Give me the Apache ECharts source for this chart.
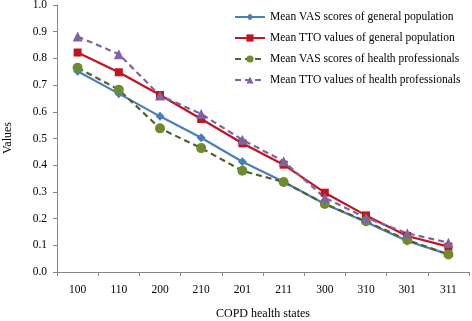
<!DOCTYPE html>
<html>
<head>
<meta charset="utf-8">
<script src="https://cdn.jsdelivr.net/npm/echarts@6/dist/echarts.min.js"></script>
<style>
  html, body { margin: 0; padding: 0; background: #fff; }
  #chart { width: 472px; height: 321px; }
</style>
</head>
<body>
<div id="chart"></div>
<script>
var healthStates = ['100', '110', '200', '210', '201', '211', '300', '310', '301', '311'];
var vasGeneral = [0.752, 0.668, 0.583, 0.503, 0.413, 0.338, 0.255, 0.187, 0.116, 0.066];
var ttoGeneral = [0.822, 0.748, 0.663, 0.573, 0.482, 0.402, 0.297, 0.212, 0.135, 0.095];
var vasProfessionals = [0.765, 0.683, 0.538, 0.464, 0.379, 0.337, 0.255, 0.19, 0.12, 0.066];
var ttoProfessionals = [0.882, 0.816, 0.661, 0.592, 0.495, 0.415, 0.278, 0.203, 0.145, 0.11];

function makeSeries(name, data, color, markColor, symbol, size, dashed) {
    return {
        name: name,
        type: 'line',
        data: data,
        symbol: symbol,
        symbolSize: size,
        lineStyle: { color: color, width: 2.2, type: dashed ? [6, 4] : 'solid' },
        itemStyle: { color: markColor, borderWidth: 0 },
        emphasis: { disabled: true },
        animation: false
    };
}

var chart = echarts.init(document.getElementById('chart'));
var font = 'Liberation Serif';

var option = {
    animation: false,
    grid: { left: 57, right: 3, top: 5, bottom: 49, containLabel: false, outerBoundsMode: 'none' },
    // axis titles as plain text (axis name placement gets pushed around in v6)
    graphic: [
        {
            type: 'text',
            x: 8,
            y: 138,
            rotation: Math.PI / 2,
            style: {
                text: 'Values', fill: '#000', font: '12px "Liberation Serif"',
                textAlign: 'center', textVerticalAlign: 'middle'
            }
        },
        {
            type: 'text',
            x: 263,
            y: 314,
            style: {
                text: 'COPD health states', fill: '#000', font: '12px "Liberation Serif"',
                textAlign: 'center', textVerticalAlign: 'middle'
            }
        }
    ],
    legend: {
        orient: 'vertical',
        left: 229,
        top: 6,
        itemWidth: 30,
        itemHeight: 9,
        itemGap: 9,
        textStyle: { fontFamily: font, fontSize: 11.5, color: '#000' },
        data: [
            'Mean VAS scores of general population',
            'Mean TTO values of general population',
            'Mean VAS scores of health professionals',
            'Mean TTO values of health professionals'
        ]
    },
    xAxis: {
        type: 'category',
        data: healthStates,
        boundaryGap: true,
        axisLine: { lineStyle: { color: '#868686', width: 1 } },
        axisTick: { show: true, length: 4, inside: false, lineStyle: { color: '#868686' } },
        axisLabel: { fontFamily: font, fontSize: 11.5, color: '#000', margin: 12 },
        splitLine: { show: false }
    },
    yAxis: {
        type: 'value',
        min: 0,
        max: 1,
        interval: 0.1,
        axisLine: { show: true, lineStyle: { color: '#868686', width: 1 } },
        axisTick: { show: true, length: 4, lineStyle: { color: '#868686' } },
        axisLabel: {
            fontFamily: font, fontSize: 11.5, color: '#000', margin: 10,
            formatter: function (v) { return v.toFixed(1); }
        },
        splitLine: { show: false }
    },
    series: [
        makeSeries('Mean VAS scores of general population', vasGeneral, '#4A7EBB', '#4A7EBB', 'diamond', 9, false),
        makeSeries('Mean TTO values of general population', ttoGeneral, '#C0141E', '#C0141E', 'rect', 8, false),
        makeSeries('Mean VAS scores of health professionals', vasProfessionals, '#4F6228', '#6E8B33', 'circle', 10, true),
        makeSeries('Mean TTO values of health professionals', ttoProfessionals, '#8064A2', '#8064A2', 'triangle', 10, true)
    ]
};

chart.setOption(option);
</script>
</body>
</html>
